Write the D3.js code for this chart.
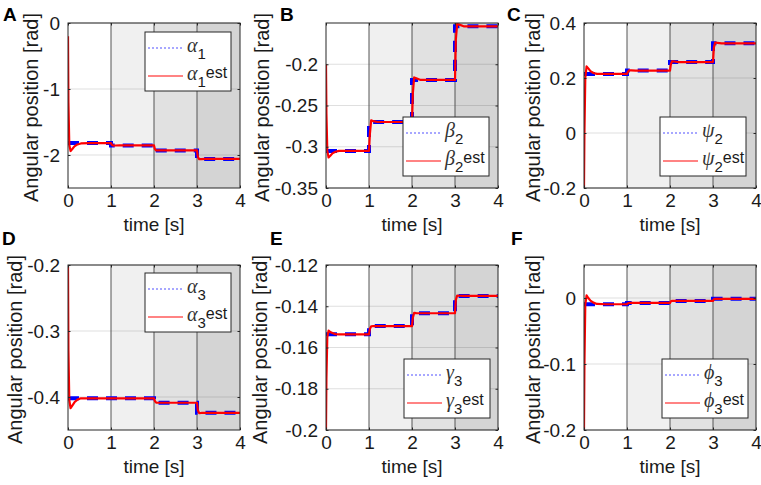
<!DOCTYPE html>
<html>
<head>
<meta charset="utf-8">
<script src="https://cdn.jsdelivr.net/npm/d3@7"></script>
<style>
  body { margin: 0; background: #fff; }
  text { font-family: "Liberation Sans", Arial, sans-serif; fill: #1a1a1a; }
</style>
</head>
<body>
<svg id="fig" width="761" height="485"></svg>
<script>

// shared time axis
var timeTicks = [0, 1, 2, 3, 4];
var stepTimes = [0, 1, 2, 3, 4];
var estTimes = [0, 0.01, 0.03, 0.06, 0.1, 0.15, 0.22, 0.3, 0.5, 1.0,
                1.02, 1.05, 1.1, 1.2, 2.0, 2.02, 2.05, 2.1, 2.2, 3.0,
                3.02, 3.05, 3.1, 3.2, 4.0];
var shadeColours = ["#ffffff", "#f0f0f0", "#e1e1e1", "#d4d4d4"];

// A - alpha1
var alpha1Domain = [-2.5, 0];
var alpha1Ticks = [-2, -1, 0];
var alpha1Ref = [-1.82, -1.855, -1.93, -2.06];
var alpha1Est = [-0.2, -1.2, -1.85, -1.94, -1.91, -1.87, -1.84, -1.825, -1.82, -1.82,
                 -1.845, -1.857, -1.856, -1.855, -1.855, -1.91, -1.932, -1.931, -1.93, -1.93,
                 -2.03, -2.063, -2.061, -2.06, -2.06];

// B - beta2
var beta2Domain = [-0.35, -0.15];
var beta2Ticks = [-0.35, -0.3, -0.25, -0.2];
var beta2Ref = [-0.305, -0.27, -0.219, -0.154];
var beta2Est = [-0.2, -0.26, -0.305, -0.313, -0.311, -0.308, -0.306, -0.305, -0.305, -0.305,
                -0.285, -0.268, -0.269, -0.27, -0.27, -0.235, -0.216, -0.217, -0.219, -0.219,
                -0.17, -0.151, -0.152, -0.154, -0.154];

// C - psi2
var psi2Domain = [-0.2, 0.4];
var psi2Ticks = [-0.2, 0, 0.2, 0.4];
var psi2Ref = [0.215, 0.227, 0.258, 0.326];
var psi2Est = [-0.2, 0.0, 0.2, 0.242, 0.235, 0.225, 0.218, 0.215, 0.215, 0.215,
               0.222, 0.228, 0.228, 0.227, 0.227, 0.25, 0.261, 0.26, 0.258, 0.258,
               0.31, 0.329, 0.328, 0.326, 0.326];

// D - alpha3
var alpha3Domain = [-0.45, -0.2];
var alpha3Ticks = [-0.4, -0.3, -0.2];
var alpha3Ref = [-0.402, -0.402, -0.4087, -0.424];
var alpha3Est = [-0.2, -0.33, -0.405, -0.417, -0.413, -0.408, -0.404, -0.402, -0.402, -0.402,
                 -0.402, -0.402, -0.402, -0.402, -0.402, -0.406, -0.4085, -0.4087, -0.4087, -0.4087,
                 -0.42, -0.4245, -0.4242, -0.424, -0.424];

// E - gamma3
var gamma3Domain = [-0.2, -0.12];
var gamma3Ticks = [-0.2, -0.18, -0.16, -0.14, -0.12];
var gamma3Ref = [-0.1536, -0.1496, -0.1434, -0.135];
var gamma3Est = [-0.2, -0.175, -0.155, -0.1518, -0.1525, -0.153, -0.1535, -0.1536, -0.1536, -0.1536,
                 -0.151, -0.1497, -0.1496, -0.1496, -0.1496, -0.1455, -0.1432, -0.1433, -0.1434, -0.1434,
                 -0.137, -0.1348, -0.1349, -0.135, -0.135];

// F - phi3
var phi3Domain = [-0.2, 0.05];
var phi3Ticks = [-0.2, -0.1, 0];
var phi3Ref = [-0.0095, -0.0075, -0.0044, -0.0013];
var phi3Est = [-0.2, -0.1, -0.01, 0.004, 0.0, -0.004, -0.007, -0.009, -0.0095, -0.0095,
               -0.008, -0.0075, -0.0075, -0.0075, -0.0075, -0.005, -0.0044, -0.0044, -0.0044, -0.0044,
               -0.002, -0.0013, -0.0013, -0.0013, -0.0013];

var panels = [
  {letter: "A", sym: "\u03b1", sub: "1", domain: alpha1Domain, ticks: alpha1Ticks, ref: alpha1Ref, est: alpha1Est,
   x: 68, y: 23, letX: 3, letY: 21, labX: 38, legX: 145, legY: 32},
  {letter: "B", sym: "\u03b2", sub: "2", domain: beta2Domain, ticks: beta2Ticks, ref: beta2Ref, est: beta2Est,
   x: 326, y: 23, letX: 280, letY: 21, labX: 269, legX: 403, legY: 117},
  {letter: "C", sym: "\u03c8", sub: "2", domain: psi2Domain, ticks: psi2Ticks, ref: psi2Ref, est: psi2Est,
   x: 584, y: 23, letX: 507, letY: 21, labX: 540, legX: 660, legY: 117},
  {letter: "D", sym: "\u03b1", sub: "3", domain: alpha3Domain, ticks: alpha3Ticks, ref: alpha3Ref, est: alpha3Est,
   x: 68, y: 265, letX: 2, letY: 245, labX: 22, legX: 145, legY: 273},
  {letter: "E", sym: "\u03b3", sub: "3", domain: gamma3Domain, ticks: gamma3Ticks, ref: gamma3Ref, est: gamma3Est,
   x: 326, y: 265, letX: 270, letY: 245, labX: 267, legX: 404, legY: 359},
  {letter: "F", sym: "\u03d5", sub: "3", domain: phi3Domain, ticks: phi3Ticks, ref: phi3Ref, est: phi3Est,
   x: 584, y: 265, letX: 511, letY: 245, labX: 540, legX: 662, legY: 359}
];

var plotW = 172, plotH = 165;
var svg = d3.select("#fig");

panels.forEach(function (p, k) {
  var g = svg.append("g").attr("transform", "translate(" + p.x + "," + p.y + ")");
  var xScale = d3.scaleLinear().domain([0, 4]).range([0, plotW]);
  var yScale = d3.scaleLinear().domain(p.domain).range([plotH, 0]);

  // clip for the curves
  g.append("clipPath").attr("id", "clip" + k)
    .append("rect").attr("width", plotW).attr("height", plotH);

  // shaded time intervals
  g.selectAll("rect.shade").data(shadeColours).enter().append("rect")
    .attr("class", "shade")
    .attr("x", function (d, i) { return xScale(stepTimes[i]); })
    .attr("width", function (d, i) { return xScale(stepTimes[i + 1]) - xScale(stepTimes[i]); })
    .attr("y", 0).attr("height", plotH)
    .attr("fill", function (d) { return d; });

  // horizontal grid
  g.selectAll("line.grid").data(p.ticks).enter().append("line")
    .attr("x1", 0).attr("x2", plotW)
    .attr("y1", function (d) { return yScale(d); })
    .attr("y2", function (d) { return yScale(d); })
    .attr("stroke", "#262626").attr("stroke-opacity", 0.15).attr("stroke-width", 1);

  // interval borders
  g.selectAll("line.sep").data(stepTimes.slice(1, 4)).enter().append("line")
    .attr("x1", function (d) { return xScale(d); })
    .attr("x2", function (d) { return xScale(d); })
    .attr("y1", 0).attr("y2", plotH)
    .attr("stroke", "#555").attr("stroke-width", 1);

  // reference step signal
  var refPts = stepTimes.map(function (t, i) { return [t, p.ref[Math.min(i, p.ref.length - 1)]]; });
  var stepLine = d3.line().curve(d3.curveStepAfter)
    .x(function (d) { return xScale(d[0]); })
    .y(function (d) { return yScale(d[1]); });
  g.append("path").datum(refPts)
    .attr("clip-path", "url(#clip" + k + ")")
    .attr("d", stepLine)
    .attr("fill", "none").attr("stroke", "#0000ff")
    .attr("stroke-width", 4).attr("stroke-dasharray", "11,8");

  // estimate
  var estPts = estTimes.map(function (t, i) { return [t, p.est[i]]; });
  var estLine = d3.line()
    .x(function (d) { return xScale(d[0]); })
    .y(function (d) { return yScale(d[1]); });
  g.append("path").datum(estPts)
    .attr("clip-path", "url(#clip" + k + ")")
    .attr("d", estLine)
    .attr("fill", "none").attr("stroke", "#ff0000")
    .attr("stroke-width", 2.2).attr("stroke-linejoin", "round");

  // axes box with inward ticks
  g.append("rect").attr("width", plotW).attr("height", plotH)
    .attr("fill", "none").attr("stroke", "#262626").attr("stroke-width", 1);

  var fmt = function (d) { return String(d); };
  var xAxis = g.append("g").attr("transform", "translate(0," + plotH + ")")
    .call(d3.axisBottom(xScale).tickValues(timeTicks).tickFormat(fmt)
      .tickSizeInner(-2.5).tickSizeOuter(0).tickPadding(6));
  var yAxis = g.append("g")
    .call(d3.axisLeft(yScale).tickValues(p.ticks).tickFormat(fmt)
      .tickSizeInner(-2.5).tickSizeOuter(0).tickPadding(8));
  g.append("g").attr("transform", "translate(" + plotW + ",0)")
    .call(d3.axisRight(yScale).tickValues(p.ticks).tickSizeInner(-2.5).tickSizeOuter(0).tickFormat(""));
  g.append("g")
    .call(d3.axisTop(xScale).tickValues(timeTicks).tickSizeInner(-2.5).tickSizeOuter(0).tickFormat(""));

  g.selectAll(".domain").remove();
  g.selectAll(".tick line").attr("stroke", "#262626");
  g.selectAll(".tick text").attr("font-size", 19)
    .attr("font-family", "Liberation Sans, Arial, sans-serif").attr("fill", "#1a1a1a");

  // axis titles
  g.append("text").attr("x", plotW / 2).attr("y", plotH + 43)
    .attr("text-anchor", "middle").attr("font-size", 19).text("time [s]");
  svg.append("text")
    .attr("transform", "translate(" + p.labX + "," + (p.y + plotH / 2 + 2) + ") rotate(-90)")
    .attr("text-anchor", "middle").attr("font-size", 20).text("Angular position [rad]");

  // panel letter
  svg.append("text").attr("x", p.letX).attr("y", p.letY)
    .attr("font-size", 19).style("font-weight", "bold").style("fill", "#000").text(p.letter);

  // legend
  var leg = svg.append("g").attr("transform", "translate(" + p.legX + "," + p.legY + ")");
  leg.append("rect").attr("width", 86).attr("height", 59)
    .attr("fill", "#fff").attr("stroke", "#262626").attr("stroke-width", 1);
  var rows = [
    {y: 16, colour: "#5050ff", dash: "2,2", width: 1.2, suffix: ""},
    {y: 44, colour: "#ff5a5a", dash: null, width: 1.5, suffix: "est"}
  ];
  rows.forEach(function (r) {
    leg.append("line").attr("x1", 3).attr("x2", 38).attr("y1", r.y).attr("y2", r.y)
      .attr("stroke", r.colour).attr("stroke-width", r.width)
      .attr("stroke-dasharray", r.dash);
    var t = leg.append("text").attr("x", 42).attr("y", r.y + 4);
    t.append("tspan").attr("font-family", "Liberation Serif, serif").attr("font-style", "italic")
      .attr("font-size", 20).style("fill", "#333").text(p.sym);
    t.append("tspan").attr("font-size", 15).attr("dy", 7).text(p.sub);
    if (r.suffix) {
      t.append("tspan").attr("font-size", 16).attr("dy", -9).text(r.suffix);
    }
  });
});
</script>
</body>
</html>
